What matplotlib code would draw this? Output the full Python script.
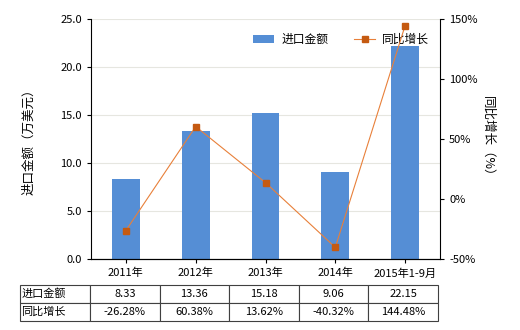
import matplotlib
matplotlib.use("Agg")
import matplotlib.pyplot as plt

plt.rcParams['font.family'] = ['Noto Sans CJK SC', 'DejaVu Sans']

categories = ["2011年", "2012年", "2013年", "2014年", "2015年1-9月"]
import_values = [8.33, 13.36, 15.18, 9.06, 22.15]
growth_pct = [-26.28, 60.38, 13.62, -40.32, 144.48]
left_ticks = [0, 5, 10, 15, 20, 25]
right_ticks = [-50, 0, 50, 100, 150]

bar_color = "#558ED5"
line_color = "#E8803A"
marker_color = "#C55A11"

fig = plt.figure(figsize=(5.2, 3.3), dpi=100)
ax = fig.add_axes([91/520, 1-259/330, 349/520, 240/330])
x = list(range(len(categories)))

ax.bar(x, import_values, width=0.4, color=bar_color, zorder=2, label="进口金额")
ax.set_xlim(-0.5, len(categories)-0.5)
ax.set_ylim(0, 25)
ax.set_yticks(left_ticks)
ax.set_yticklabels([f"{v:.1f}" for v in left_ticks])
ax.grid(axis='y', color='#E6E6E0', linewidth=0.8, zorder=0)
ax.set_xticks(x)
ax.set_xticklabels(categories)
ax.tick_params(axis='both', labelsize=8, direction='out', length=3, width=0.8)
ax.spines['top'].set_visible(False)
ax.spines['right'].set_visible(False)
ax.set_ylabel("进口金额（万美元）", fontsize=9, labelpad=18)

ax2 = ax.twinx()
ax2.plot(x, growth_pct, color=line_color, linewidth=0.8, marker='s', markersize=4,
         markerfacecolor=marker_color, markeredgecolor=marker_color, label="同比增长", zorder=3)
ax2.set_ylim(-50, 150)
ax2.set_yticks(right_ticks)
ax2.set_yticklabels([f"{v}%" for v in right_ticks])
ax2.tick_params(axis='y', labelsize=8, direction='out', length=3, width=0.8)
ax2.spines['top'].set_visible(False)
ax2.spines['left'].set_visible(False)
ax2.set_ylabel("同比增长（%）", fontsize=9, rotation=-90, labelpad=12)

h1, l1 = ax.get_legend_handles_labels()
h2, l2 = ax2.get_legend_handles_labels()
ax.legend(h1 + h2, l1 + l2, loc='upper right', bbox_to_anchor=(1.0, 0.985), ncol=2,
          frameon=False, fontsize=8.5, handlelength=1.8, columnspacing=2.2, handletextpad=0.6)

# data table
cell_text = [["进口金额"] + [f"{v:.2f}" for v in import_values],
             ["同比增长"] + [f"{v:.2f}%" for v in growth_pct]]
tb = ax.table(cellText=cell_text, bbox=[(20-91)/349, (259-321)/240, (438-20)/349, 36/240],
              colWidths=[70] + [69.6]*5, cellLoc='center')
tb.auto_set_font_size(False)
tb.set_fontsize(8)
for (r, c), cell in tb.get_celld().items():
    cell.set_edgecolor('#404040')
    cell.set_linewidth(0.8)
    if c == 0:
        cell.set_text_props(ha='left')
        cell.PAD = 0.02

fig.savefig("out.png", dpi=100)
